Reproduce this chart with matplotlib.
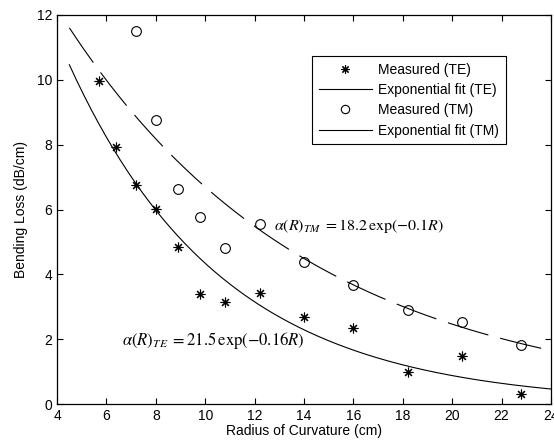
import numpy as np
import matplotlib.pyplot as plt
from matplotlib.lines import Line2D

plt.rcParams['font.family'] = ['Liberation Sans', 'DejaVu Sans']
plt.rcParams['mathtext.fontset'] = 'stix'

# measured bending loss vs radius
radius_te = [5.7, 6.4, 7.2, 8.0, 8.9, 9.8, 10.8, 12.2, 14.0, 16.0, 18.2, 20.4, 22.8]
loss_te = [9.97, 7.92, 6.75, 6.01, 4.83, 3.40, 3.14, 3.42, 2.67, 2.33, 0.98, 1.48, 0.32]

radius_tm = [7.2, 8.0, 8.9, 9.8, 10.8, 12.2, 14.0, 16.0, 18.2, 20.4, 22.8]
loss_tm = [11.51, 8.77, 6.63, 5.78, 4.80, 5.56, 4.38, 3.67, 2.90, 2.52, 1.81]

# fit parameters: alpha(R) = a * exp(b * R)
fit_te = (21.5, -0.16)
fit_tm = (18.2, -0.1)

r_te = np.linspace(4.5, 24, 200)
r_tm = np.linspace(4.5, 23.7, 200)

fig = plt.figure(figsize=(5.54, 4.45), dpi=100)
ax = fig.add_axes([57 / 554, 1 - 404 / 445, 494 / 554, 389 / 445])

ax.plot(radius_te, loss_te, linestyle='none', marker=(8, 2, 0), markersize=7,
        color='black', markeredgewidth=0.8)
ax.plot(r_te, fit_te[0] * np.exp(fit_te[1] * r_te), color='black', linewidth=0.8)
ax.plot(radius_tm, loss_tm, linestyle='none', marker='o', markersize=7,
        markerfacecolor='none', markeredgecolor='black', markeredgewidth=0.8)
ax.plot(r_tm, fit_tm[0] * np.exp(fit_tm[1] * r_tm), color='black', linewidth=0.8,
        dashes=(38, 11))

handles = [
    Line2D([], [], linestyle='none', marker=(8, 2, 0), markersize=6, color='black',
           markeredgewidth=0.8),
    Line2D([], [], color='black', linewidth=0.8),
    Line2D([], [], linestyle='none', marker='o', markersize=6, markerfacecolor='none',
           markeredgecolor='black', markeredgewidth=0.8),
    Line2D([], [], color='black', linewidth=0.8),
]
labels = ['Measured (TE)', 'Exponential fit (TE)', 'Measured (TM)', 'Exponential fit (TM)']
leg = ax.legend(handles, labels, loc='upper left', bbox_to_anchor=(0.516, 0.895),
                fontsize=10, frameon=True, fancybox=False, edgecolor='black',
                framealpha=1, borderpad=0.5, labelspacing=0.45, handlelength=3.8,
                handletextpad=0.45, borderaxespad=0)
leg.get_frame().set_linewidth(0.8)

ax.text(12.8, 5.5, r'$\alpha(R)_{TM}\;=18.2\,\exp(-0.1R)$', fontsize=11.5, va='center')
ax.text(6.65, 1.95, r'$\alpha(R)_{TE}\;=21.5\,\exp(-0.16R)$', fontsize=12, va='center')

ax.set_xlim(4, 24)
ax.set_ylim(0, 12)
ax.set_xticks(np.arange(4, 25, 2))
ax.set_yticks(np.arange(0, 13, 2))
ax.tick_params(direction='in', top=True, right=True, labelsize=10, length=4, width=0.8)
for s in ax.spines.values():
    s.set_linewidth(0.9)

ax.set_xlabel('Radius of Curvature (cm)', fontsize=10, labelpad=1)
ax.set_ylabel('Bending Loss (dB/cm)', fontsize=10, labelpad=6)

fig.savefig('out.png', dpi=100)
